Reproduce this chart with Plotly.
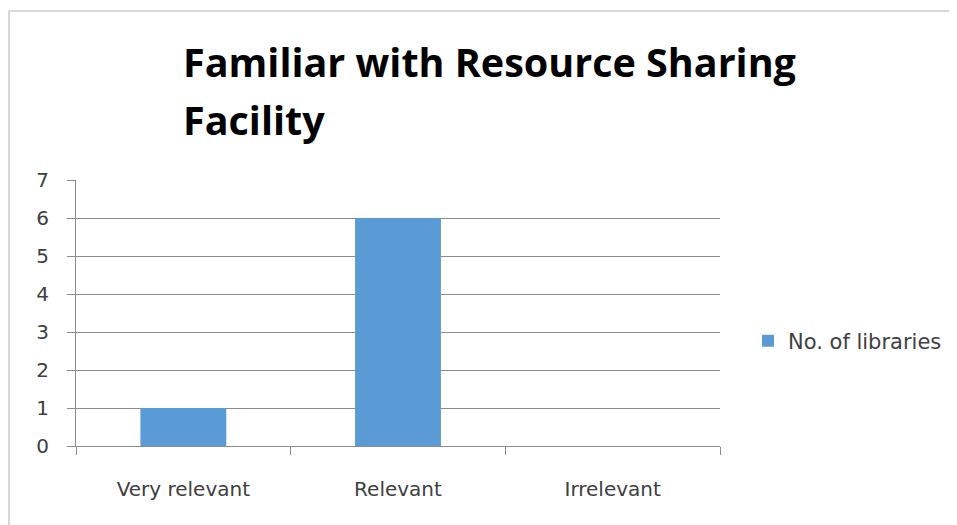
import plotly.graph_objects as go

# Dados
categorias = ["Very relevant", "Relevant", "Irrelevant"]
n_bibliotecas = [1, 6, 0]
nome_serie = "No. of libraries"
titulo_l1 = "Familiar with Resource Sharing"
titulo_l2 = "Facility"

_COR_BARRA = "#5B9BD5"
_COR_GRADE = "#8C8C8C"
_COR_TEXTO = "#404040"
_FONTE = "DejaVu Sans"
_FONTE_TITULO = "Open Sans"

# A página tem margem de 8 px no body; compensamos nas posições
_OFF = 8
W, H = 957 - _OFF, 525 - _OFF
L = 76 - _OFF
T = 180 - _OFF
R = W - (720 - _OFF)
B = H - (446 - _OFF)
ph = H - T - B
pw = W - L - R


def _px_y(py):
    """Converte y em pixels da tela (a partir do topo) para coordenada paper."""
    return (H - B - (py - _OFF)) / ph


def _px_x(px):
    return (px - _OFF - L) / pw


fig = go.Figure()
fig.add_trace(go.Bar(
    x=categorias, y=n_bibliotecas, name=nome_serie,
    marker=dict(color=_COR_BARRA, line=dict(width=0)),
    showlegend=True,
))

fig.update_layout(
    width=W, height=H,
    margin=dict(l=L, r=R, t=T, b=B, autoexpand=False),
    paper_bgcolor="white", plot_bgcolor="white",
    font=dict(family=_FONTE, color=_COR_TEXTO),
    bargap=0.6,
    showlegend=True,
    legend=dict(
        x=_px_x(748), xanchor="left", y=_px_y(341), yanchor="middle",
        font=dict(size=21, color=_COR_TEXTO), bgcolor="rgba(0,0,0,0)",
    ),
)

fig.update_xaxes(
    showline=True, linecolor=_COR_GRADE, linewidth=1,
    ticks="outside", ticklen=8, tickcolor=_COR_GRADE, tickson="boundaries",
    tickfont=dict(size=20, color=_COR_TEXTO), ticklabelstandoff=25,
    showgrid=False,
)
fig.update_yaxes(
    range=[0, 7], dtick=1, tick0=0,
    showgrid=True, gridcolor=_COR_GRADE, gridwidth=1,
    showline=True, linecolor=_COR_GRADE, linewidth=1,
    ticks="outside", ticklen=8, tickcolor=_COR_GRADE,
    tickfont=dict(size=20, color=_COR_TEXTO), ticklabelstandoff=14,
    zeroline=False,
)

# Título em duas linhas (espaçamento maior que o padrão do plotly)
for texto, yc in [(titulo_l1, 62), (titulo_l2, 120)]:
    fig.add_annotation(
        text=f"<b>{texto}</b>", xref="paper", yref="paper",
        x=_px_x(181), xanchor="left", y=_px_y(yc), yanchor="middle",
        showarrow=False, font=dict(size=39.5, color="black", family=_FONTE_TITULO),
    )

# Moldura do gráfico
fig.add_shape(
    type="rect", xref="paper", yref="paper",
    x0=_px_x(9), x1=_px_x(957 + 20), y0=_px_y(525 + 20), y1=_px_y(11),
    line=dict(color="#B0B0B0", width=1), fillcolor="rgba(0,0,0,0)",
    layer="below",
)

fig.write_html("out.html")
